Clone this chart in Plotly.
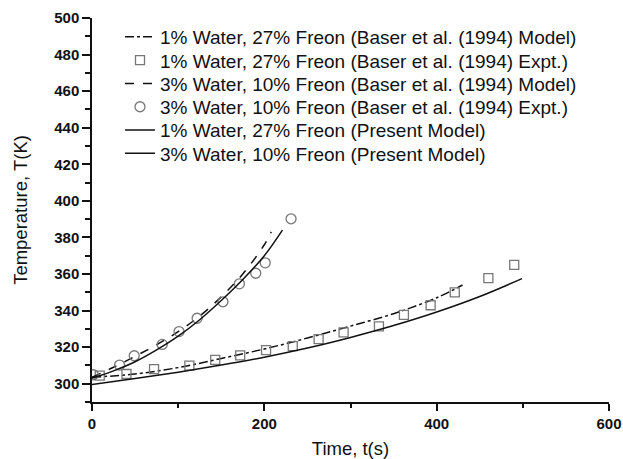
import plotly.graph_objects as go

# 1% Water, 27% Freon - Baser et al. (1994) Model (dash-dot)
t_baser1 = [0, 50, 100, 150, 200, 250, 300, 350, 400, 430]
T_baser1 = [303.5, 305.3, 308.8, 313.8, 319, 325, 331.5, 338.3, 347, 354]

# 1% Water, 27% Freon - Expt. (squares)
t_expt1 = [9, 40, 72, 113, 143, 172, 202, 233, 263, 292, 333, 362, 393, 421, 460, 490]
T_expt1 = [304.4, 305.3, 308, 309.9, 313, 315.5, 318.4, 320.6, 324.4, 328.1, 331.4,
           337.6, 342.9, 350, 357.7, 365]

# 3% Water, 10% Freon - Baser et al. (1994) Model (dashed)
t_baser3 = [0, 25, 50, 75, 100, 125, 150, 175, 200, 208]
T_baser3 = [303.5, 309, 315, 321.3, 328.5, 337, 347.5, 360, 376, 383]

# 3% Water, 10% Freon - Expt. (circles)
t_expt3 = [1.5, 32, 49, 81.5, 101, 122, 152, 171, 190, 201, 231]
T_expt3 = [304.9, 310.2, 315.3, 321.5, 328.5, 335.8, 344.8, 354.6, 360.4, 366.1, 390.2]

# 1% Water, 27% Freon - Present Model (solid)
t_pres1 = [0, 50, 100, 150, 200, 250, 300, 350, 400, 450, 499]
T_pres1 = [299.5, 302.8, 306.3, 310.2, 314.5, 319.5, 325.3, 331.8, 339.2, 347.7, 357.5]

# 3% Water, 10% Freon - Present Model (solid)
t_pres3 = [0, 25, 50, 75, 100, 125, 150, 175, 200, 221]
T_pres3 = [303, 307, 312, 318.5, 326, 335, 345.5, 357, 370, 384]

names = [
    "1% Water, 27% Freon (Baser et al. (1994) Model)",
    "1% Water, 27% Freon (Baser et al. (1994) Expt.)",
    "3% Water, 10% Freon (Baser et al. (1994) Model)",
    "3% Water, 10% Freon (Baser et al. (1994) Expt.)",
    "1% Water, 27% Freon (Present Model)",
    "3% Water, 10% Freon (Present Model)",
]

FONT = "Liberation Sans, Arial, sans-serif"
W, H = 623, 459
ML, MR, MT, MB = 92, 14, 18, 57
plot_h = H - MT - MB

legend_ids = ["legend", "legend2", "legend3", "legend4", "legend5", "legend6"]

fig = go.Figure()
fig.add_trace(go.Scatter(x=t_baser1, y=T_baser1, mode="lines", name=names[0], legend=legend_ids[0],
                         line=dict(color="#111", width=1.5, dash="dashdot", shape="spline")))
fig.add_trace(go.Scatter(x=t_expt1, y=T_expt1, mode="markers", name=names[1], legend=legend_ids[1],
                         marker=dict(symbol="square-open", size=9, color="#777",
                                     line=dict(width=1.3))))
fig.add_trace(go.Scatter(x=t_baser3, y=T_baser3, mode="lines", name=names[2], legend=legend_ids[2],
                         line=dict(color="#111", width=1.5, dash="dash", shape="spline")))
fig.add_trace(go.Scatter(x=t_expt3, y=T_expt3, mode="markers", name=names[3], legend=legend_ids[3],
                         marker=dict(symbol="circle-open", size=10, color="#777",
                                     line=dict(width=1.3))))
fig.add_trace(go.Scatter(x=t_pres1, y=T_pres1, mode="lines", name=names[4], legend=legend_ids[4],
                         line=dict(color="#111", width=1.5, shape="spline")))
fig.add_trace(go.Scatter(x=t_pres3, y=T_pres3, mode="lines", name=names[5], legend=legend_ids[5],
                         line=dict(color="#111", width=1.5, shape="spline")))

legend_layout = {}
row0_px, row_step_px = 37, 23.3
for i, lid in enumerate(legend_ids):
    ypix = row0_px + i * row_step_px
    legend_layout[lid] = dict(
        x=(120 - ML) / (W - ML - MR), y=(H - MB - ypix) / plot_h,
        xanchor="left", yanchor="middle",
        bgcolor="rgba(0,0,0,0)", borderwidth=0,
        font=dict(size=19, family=FONT, color="#111"), itemwidth=30,
    )

fig.update_layout(
    width=W, height=H,
    margin=dict(l=ML, r=MR, t=MT, b=MB, autoexpand=False),
    paper_bgcolor="white", plot_bgcolor="white",
    font=dict(family=FONT, color="#111"),
    showlegend=True,
    **legend_layout,
)
fig.update_xaxes(
    range=[0, 600], showgrid=False, zeroline=False, automargin=False,
    showline=True, linecolor="#111", linewidth=1.5,
    ticks="outside", ticklen=7, tickwidth=1.5, tickcolor="#111",
    tick0=0, dtick=200,
    minor=dict(dtick=100, ticks="outside", ticklen=4, tickwidth=1.5, tickcolor="#111"),
    tickfont=dict(size=15, family=FONT, weight="bold", color="#111"),
    title=dict(text="Time, t(s)", font=dict(size=18.5, family=FONT, color="#111"), standoff=14),
)
fig.update_yaxes(
    range=[290, 500], showgrid=False, zeroline=False, automargin=False,
    showline=True, linecolor="#111", linewidth=1.5,
    ticks="outside", ticklen=8, tickwidth=1.5, tickcolor="#111",
    tick0=300, dtick=20,
    minor=dict(dtick=10, ticks="outside", ticklen=5, tickwidth=1.5, tickcolor="#111"),
    tickfont=dict(size=15, family=FONT, weight="bold", color="#111"),
    title=dict(text="Temperature, T(K)", font=dict(size=18.5, family=FONT, color="#111"), standoff=22),
)
fig.write_html("out.html")
